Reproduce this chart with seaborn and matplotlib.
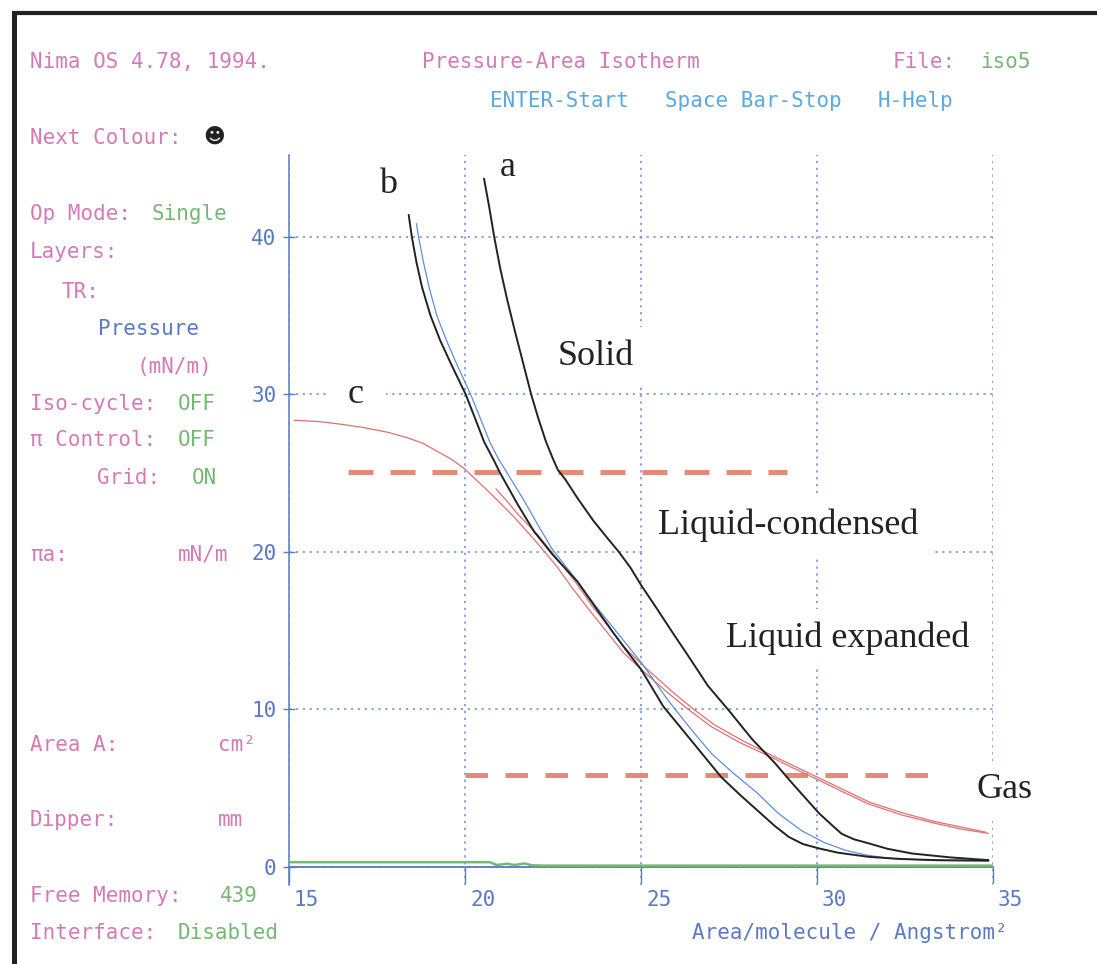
import matplotlib
matplotlib.use("Agg")
import matplotlib.pyplot as plt
import seaborn as sns
from matplotlib.lines import Line2D
from matplotlib.transforms import ScaledTranslation

sns.set_theme(style="white")
plt.rcParams['font.family'] = ['DejaVu Sans Mono', 'DejaVu Sans']

# isotherm a (black)
a_area = [20.54, 20.68, 20.83, 21.0, 21.2, 21.42, 21.65, 21.88, 22.08, 22.3, 22.5, 22.64,
          22.85, 23.2, 23.64, 24.0, 24.37, 24.7, 25.0, 25.45, 25.89, 26.4, 26.9, 27.47,
          28.16, 28.8, 29.3, 29.7, 30.06, 30.4, 30.7, 31.05, 31.46, 32.0, 32.7, 33.8, 34.87]
a_pi = [43.7, 42.0, 40.0, 38.0, 36.0, 34.0, 32.0, 30.0, 28.5, 27.0, 25.9, 25.2,
        24.6, 23.4, 22.0, 21.0, 20.0, 19.0, 17.9, 16.4, 14.9, 13.2, 11.5, 10.0,
        8.1, 6.6, 5.3, 4.3, 3.4, 2.7, 2.1, 1.75, 1.5, 1.15, 0.85, 0.6, 0.43]

# isotherm b (black)
b_area = [18.40, 18.49, 18.62, 18.78, 19.02, 19.3, 19.59, 20.02, 20.3, 20.54, 20.8, 21.0,
          21.25, 21.5, 21.96, 22.5, 23.2, 23.7, 24.2, 24.6, 25.0, 25.63, 26.4, 27.28,
          27.8, 28.3, 28.8, 29.2, 29.6, 30.06, 30.6, 31.46, 32.4, 33.35, 34.87]
b_pi = [41.4, 40.0, 38.4, 36.8, 35.0, 33.4, 32.0, 30.0, 28.4, 27.0, 25.9, 25.0,
        24.0, 23.0, 21.3, 19.8, 18.1, 16.5, 14.9, 13.7, 12.55, 10.2, 8.1, 5.7,
        4.6, 3.6, 2.6, 1.9, 1.45, 1.17, 0.9, 0.64, 0.5, 0.43, 0.4]

# repeat of b (blue)
blue_area = [18.62, 18.68, 18.82, 18.98, 19.2, 19.48, 19.75, 20.16, 20.45, 20.7, 20.95, 21.2,
             21.64, 22.05, 22.47, 23.1, 23.7, 24.35, 25.0, 25.76, 26.4, 27.0, 27.65, 28.3,
             28.9, 29.56, 30.2, 30.8, 31.4, 32.1, 33.5, 34.87]
blue_pi = [40.84, 40.0, 38.4, 36.8, 35.0, 33.4, 32.0, 30.0, 28.4, 27.0, 25.9, 25.0,
           23.4, 21.8, 20.2, 18.4, 16.6, 14.8, 13.0, 10.6, 8.8, 7.2, 5.9, 4.7,
           3.4, 2.3, 1.55, 1.06, 0.75, 0.53, 0.4, 0.38]

# isotherm c (red), two traces
c_area = [15.15, 15.87, 16.5, 17.1, 17.8, 18.35, 18.8, 19.2, 19.6, 20.0, 20.3, 20.64,
          21.0, 21.4, 22.0, 22.6, 23.05, 23.5, 24.0, 24.5, 25.0, 25.76, 26.4, 27.0,
          27.8, 28.67, 29.3, 30.06, 30.7, 31.46, 32.4, 33.35, 34.1, 34.87]
c_pi = [28.36, 28.27, 28.1, 27.9, 27.6, 27.26, 26.9, 26.4, 25.9, 25.26, 24.6, 23.9,
        23.1, 22.2, 20.7, 19.1, 17.7, 16.4, 15.0, 13.6, 12.55, 11.06, 9.9, 8.9,
        7.9, 7.0, 6.3, 5.5, 4.8, 4.0, 3.3, 2.77, 2.4, 2.13]
c2_area = [20.88, 21.2, 21.5, 22.1, 22.75, 23.2, 23.6, 24.1, 24.55, 25.1, 25.9, 26.5,
           27.1, 27.9, 28.7, 29.4, 30.1, 30.8, 31.5, 32.4, 33.3, 34.8]
c2_pi = [24.0, 23.2, 22.4, 21.0, 19.2, 17.9, 16.6, 15.2, 13.9, 12.7, 11.1, 10.0,
         9.0, 8.0, 7.1, 6.35, 5.6, 4.85, 4.1, 3.45, 2.9, 2.2]

# baseline trace (green)
g_area = [15.0, 20.7, 20.9, 21.2, 21.4, 21.7, 21.9, 22.2, 35.0]
g_pi = [0.3, 0.3, 0.12, 0.2, 0.12, 0.22, 0.1, 0.08, 0.08]

# phase boundaries (dashed)
upper_area = [16.68, 29.15]
upper_pi = [25.1, 25.1]
lower_area = [20.0, 33.5]
lower_pi = [5.85, 5.85]

x_ticks = [15, 20, 25, 30, 35]
y_ticks = [0, 10, 20, 30, 40]

PINK = "#d47ab4"
GREEN = "#74b874"
BLUE = "#5b79c4"
LBLUE = "#5aa9e0"
GRID = "#6f8bd0"
INK = "#222222"
SALMON = "#e58a78"

W, H = 1097, 964
fig = plt.figure(figsize=(W / 100, H / 100), dpi=100)
fig.patch.set_facecolor("white")
ax = fig.add_axes([289 / W, 1 - 885 / H, 704 / W, 730 / H])
ax.set_facecolor("white")

# curves
sns.lineplot(x=upper_area, y=upper_pi, ax=ax, color=SALMON, lw=3.6,
             linestyle=(0, (5, 3.4)), zorder=3)
sns.lineplot(x=lower_area, y=lower_pi, ax=ax, color=SALMON, lw=3.6,
             linestyle=(0, (4.5, 3.5)), zorder=3)
sns.lineplot(x=g_area, y=g_pi, ax=ax, color=GREEN, lw=1.8, sort=False, zorder=4)
sns.lineplot(x=c_area, y=c_pi, ax=ax, color="#e07070", lw=0.9, sort=False, zorder=5)
sns.lineplot(x=c2_area, y=c2_pi, ax=ax, color="#e07070", lw=0.9, sort=False, zorder=5)
sns.lineplot(x=blue_area, y=blue_pi, ax=ax, color="#5b8fd8", lw=0.9, sort=False, zorder=5)
sns.lineplot(x=b_area, y=b_pi, ax=ax, color=INK, lw=1.4, sort=False, zorder=6)
sns.lineplot(x=a_area, y=a_pi, ax=ax, color=INK, lw=1.4, sort=False, zorder=6)

ax.set_xlim(15, 35)
ax.set_ylim(-1.15, 45.2)
ax.set_xlabel("")
ax.set_ylabel("")

# axes styling
for s in ["top", "right"]:
    ax.spines[s].set_visible(False)
ax.spines["left"].set_color(BLUE)
ax.spines["left"].set_linewidth(1.1)
ax.spines["bottom"].set_position(("data", 0))
ax.spines["bottom"].set_color(BLUE)
ax.spines["bottom"].set_linewidth(1.3)

ax.set_xticks(x_ticks)
ax.set_yticks(y_ticks)
ax.tick_params(axis="x", direction="out", length=11.5, width=1, color=BLUE,
               labelcolor=BLUE, labelsize=15, pad=5, bottom=True)
ax.tick_params(axis="y", direction="inout", length=8, width=1, color=BLUE,
               labelcolor=BLUE, labelsize=15, pad=5, left=True)
offset = ScaledTranslation(5 / 100, 0, fig.dpi_scale_trans)
for lab in ax.get_xticklabels():
    lab.set_horizontalalignment("left")
    lab.set_transform(lab.get_transform() + offset)

ax.grid(True, color=GRID, linestyle=(0, (1.5, 3)), linewidth=1.1)
ax.set_axisbelow(True)

# annotations on the plot
serif = dict(family="Liberation Serif", fontsize=26, color=INK, ha="center",
             va="center", zorder=4)
box = dict(facecolor="white", edgecolor="none", boxstyle="square,pad=0.35")
ax.text(21.22, 44.4, "a", **serif)
ax.text(17.81, 43.3, "b", **serif)
ax.text(16.9, 29.97, "c", bbox=dict(facecolor="white", edgecolor="none",
                                     boxstyle="square,pad=0.6"), **serif)
ax.text(23.72, 32.4, "Solid", bbox=box, **serif)
ax.text(29.18, 21.7, "Liquid-condensed", bbox=box, **serif)
ax.text(30.88, 14.5, "Liquid expanded", bbox=box, **serif)
ax.text(35.34, 4.9, "Gas", bbox=box, clip_on=False, **serif)


def ftxt(px, py, s, color, **kw):
    fig.text(px / W, 1 - py / H, s, color=color, fontsize=15, ha="left",
             va="center", **kw)


# screen header
ftxt(30, 62, "Nima OS 4.78, 1994.", PINK)
ftxt(422, 62, "Pressure-Area Isotherm", PINK)
ftxt(893, 62, "File:", PINK)
ftxt(980, 62, "iso5", GREEN)
ftxt(490, 101, "ENTER-Start", LBLUE)
ftxt(665, 101, "Space Bar-Stop", LBLUE)
ftxt(878, 101, "H-Help", LBLUE)
ftxt(30, 138, "Next Colour:", PINK)
fig.text(214 / W, 1 - 138 / H, "\u263b", family="DejaVu Sans", fontsize=15,
         color=INK, ha="center", va="center")

# side panel
ftxt(30, 214, "Op Mode:", PINK)
ftxt(152, 214, "Single", GREEN)
ftxt(30, 252, "Layers:", PINK)
ftxt(62, 292, "TR:", PINK)
ftxt(98, 329, "Pressure", BLUE)
ftxt(137, 367, "(mN/m)", PINK)
ftxt(30, 404, "Iso-cycle:", PINK)
ftxt(178, 404, "OFF", GREEN)
ftxt(30, 440, "\u03c0 Control:", PINK)
ftxt(178, 440, "OFF", GREEN)
ftxt(97, 478, "Grid:", PINK)
ftxt(192, 478, "ON", GREEN)
ftxt(30, 555, "\u03c0a:", PINK)
ftxt(178, 555, "mN/m", PINK)
ftxt(30, 745, "Area A:", PINK)
ftxt(218, 745, "cm\u00b2", PINK)
ftxt(30, 820, "Dipper:", PINK)
ftxt(218, 820, "mm", PINK)
ftxt(30, 896, "Free Memory:", PINK)
ftxt(220, 896, "439", GREEN)
ftxt(30, 933, "Interface:", PINK)
ftxt(178, 933, "Disabled", GREEN)
ftxt(692, 933, "Area/molecule / Angstrom\u00b2", BLUE)

# screen frame
fig.add_artist(Line2D([12 / W, 1], [1 - 13 / H, 1 - 13 / H], color=INK, lw=3,
                      solid_capstyle="butt", transform=fig.transFigure))
fig.add_artist(Line2D([14 / W, 14 / W], [1 - 12 / H, 0], color=INK, lw=3.6,
                      solid_capstyle="butt", transform=fig.transFigure))

fig.savefig("out.png", dpi=100, facecolor="white")
